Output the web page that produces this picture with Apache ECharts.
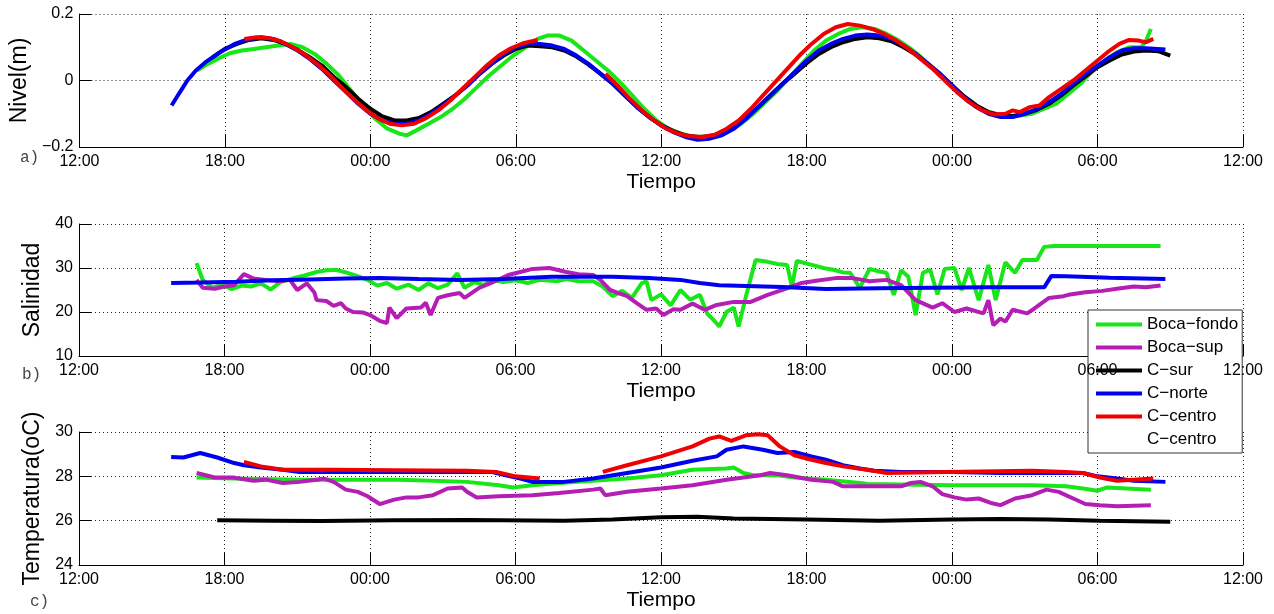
<!DOCTYPE html>
<html>
<head>
<meta charset="utf-8">
<script src="https://cdn.jsdelivr.net/npm/echarts@6/dist/echarts.min.js"></script>
<style>
  html, body { margin: 0; padding: 0; background: #fff; }
  #main { width: 1274px; height: 614px; }
</style>
</head>
<body>
<div id="main"></div>
<script>
// eje x: horas desde las 12:00 del primer dia
let xTicks = ['12:00', '18:00', '00:00', '06:00', '12:00', '18:00', '00:00', '06:00', '12:00']
let names = ['Boca\u2212fondo', 'Boca\u2212sup', 'C\u2212sur', 'C\u2212norte', 'C\u2212centro', 'C\u2212centro ']

// a) Nivel (m)
let nivelFondo = [[4.85,0.03],[5.3,0.05],[5.7,0.065],[6.2,0.082],[6.7,0.09],[7.2,0.095],[7.7,0.1],[8.2,0.105],[8.7,0.11],[9.2,0.1],[9.7,0.08],[10.2,0.05],[10.7,0.015],[11.2,-0.03],[11.7,-0.075],[12.2,-0.115],[12.7,-0.145],[13.2,-0.16],[13.5,-0.165],[13.9,-0.15],[14.4,-0.13],[14.9,-0.11],[15.4,-0.085],[15.9,-0.055],[16.4,-0.02],[16.9,0.015],[17.4,0.045],[17.9,0.075],[18.4,0.1],[18.9,0.125],[19.3,0.135],[19.8,0.135],[20.3,0.12],[20.8,0.09],[21.3,0.06],[21.8,0.03],[22.3,-0.005],[22.8,-0.045],[23.3,-0.085],[23.8,-0.12],[24.3,-0.145],[24.8,-0.16],[25.3,-0.168],[25.8,-0.172],[26.3,-0.165],[26.8,-0.15],[27.3,-0.13],[27.8,-0.1],[28.3,-0.065],[28.8,-0.03],[29.3,0.01],[29.8,0.05],[30.3,0.09],[30.8,0.12],[31.3,0.14],[31.8,0.155],[32.3,0.16],[32.8,0.155],[33.3,0.14],[33.8,0.12],[34.3,0.095],[34.8,0.065],[35.3,0.03],[35.8,-0.005],[36.3,-0.04],[36.8,-0.07],[37.3,-0.09],[37.8,-0.1],[38.3,-0.11],[38.8,-0.105],[39.3,-0.1],[39.8,-0.085],[40.3,-0.07],[40.8,-0.04],[41.3,-0.01],[41.8,0.03],[42.3,0.06],[42.8,0.085],[43.3,0.1],[43.8,0.1],[44.0,0.12],[44.2,0.155]]
let nivelSur = [[5.5,0.07],[6.0,0.095],[6.5,0.11],[7.0,0.122],[7.5,0.127],[8.0,0.122],[8.5,0.11],[9.0,0.092],[9.5,0.07],[10.0,0.045],[10.5,0.01],[11.0,-0.02],[11.5,-0.055],[12.0,-0.085],[12.5,-0.108],[13.0,-0.12],[13.5,-0.12],[14.0,-0.113],[14.5,-0.095],[15.0,-0.07],[15.5,-0.045],[16.0,-0.015],[16.5,0.02],[17.0,0.05],[17.5,0.075],[18.0,0.095],[18.5,0.105],[19.0,0.103],[19.5,0.1],[20.0,0.09],[20.5,0.072],[21.0,0.048],[21.5,0.02],[22.0,-0.01],[22.5,-0.045],[23.0,-0.08],[23.5,-0.11],[24.0,-0.135],[24.5,-0.152],[25.0,-0.165],[25.5,-0.17],[26.0,-0.168],[26.5,-0.158],[27.0,-0.14],[27.5,-0.112],[28.0,-0.08],[28.5,-0.045],[29.0,-0.01],[29.5,0.02],[30.0,0.052],[30.5,0.08],[31.0,0.1],[31.5,0.115],[32.0,0.125],[32.5,0.13],[33.0,0.127],[33.5,0.118],[34.0,0.1],[34.5,0.078],[35.0,0.05],[35.5,0.02],[36.0,-0.015],[36.5,-0.048],[37.0,-0.075],[37.5,-0.095],[38.0,-0.105],[38.5,-0.107],[39.0,-0.1],[39.5,-0.088],[40.0,-0.07],[40.5,-0.045],[41.0,-0.015],[41.5,0.012],[42.0,0.04],[42.5,0.06],[43.0,0.078],[43.5,0.087],[44.0,0.09],[44.5,0.088],[45.0,0.075]]
let nivelNorte = [[3.8,-0.075],[4.1,-0.04],[4.45,0.0],[4.8,0.03],[5.2,0.055],[5.8,0.085],[6.4,0.11],[7.0,0.125],[7.5,0.13],[8.0,0.125],[8.5,0.11],[9.0,0.09],[9.5,0.065],[10.0,0.035],[10.5,0.0],[11.0,-0.035],[11.5,-0.07],[12.0,-0.1],[12.5,-0.12],[13.0,-0.13],[13.5,-0.13],[14.0,-0.12],[14.5,-0.1],[15.0,-0.075],[15.5,-0.045],[16.0,-0.015],[16.5,0.02],[17.0,0.05],[17.5,0.08],[18.0,0.1],[18.5,0.11],[19.0,0.11],[19.5,0.105],[20.0,0.095],[20.5,0.075],[21.0,0.05],[21.5,0.02],[22.0,-0.01],[22.5,-0.045],[23.0,-0.08],[23.5,-0.11],[24.0,-0.135],[24.5,-0.155],[25.0,-0.17],[25.5,-0.178],[26.0,-0.175],[26.5,-0.165],[27.0,-0.145],[27.5,-0.115],[28.0,-0.08],[28.5,-0.045],[29.0,-0.01],[29.5,0.025],[30.0,0.06],[30.5,0.09],[31.0,0.11],[31.5,0.125],[32.0,0.135],[32.5,0.138],[33.0,0.135],[33.5,0.125],[34.0,0.105],[34.5,0.08],[35.0,0.05],[35.5,0.02],[36.0,-0.015],[36.5,-0.05],[37.0,-0.08],[37.5,-0.1],[38.0,-0.11],[38.5,-0.11],[39.0,-0.1],[39.5,-0.085],[40.0,-0.065],[40.5,-0.04],[41.0,-0.01],[41.5,0.02],[42.0,0.045],[42.5,0.07],[43.0,0.09],[43.5,0.097],[44.0,0.097],[44.8,0.093]]
let nivelCentroA = [[6.8,0.125],[7.3,0.13],[7.8,0.128],[8.3,0.118],[8.8,0.1],[9.3,0.078],[9.8,0.05],[10.3,0.018],[10.8,-0.02],[11.3,-0.055],[11.8,-0.088],[12.3,-0.113],[12.8,-0.13],[13.3,-0.135],[13.8,-0.13],[14.3,-0.113],[14.8,-0.09],[15.3,-0.06],[15.8,-0.025],[16.3,0.01],[16.8,0.045],[17.3,0.075],[17.8,0.097],[18.3,0.112],[18.9,0.122]]
let nivelCentroB = [[21.7,0.02],[22.2,-0.015],[22.7,-0.055],[23.2,-0.09],[23.7,-0.12],[24.2,-0.145],[24.7,-0.16],[25.2,-0.168],[25.7,-0.17],[26.2,-0.163],[26.7,-0.145],[27.2,-0.12],[27.7,-0.085],[28.2,-0.045],[28.7,-0.005],[29.2,0.035],[29.7,0.075],[30.2,0.11],[30.7,0.14],[31.2,0.16],[31.7,0.17],[32.2,0.165],[32.7,0.155],[33.2,0.14],[33.7,0.12],[34.2,0.095],[34.7,0.065],[35.2,0.035],[35.7,0.0],[36.2,-0.035],[36.7,-0.065],[37.2,-0.088],[37.7,-0.102],[38.2,-0.1],[38.5,-0.09],[38.8,-0.095],[39.2,-0.08],[39.6,-0.075],[40.0,-0.05],[40.5,-0.025],[41.0,0.0],[41.5,0.03],[42.0,0.06],[42.5,0.09],[42.9,0.11],[43.3,0.122],[43.7,0.12],[44.0,0.115],[44.3,0.125]]

// b) Salinidad
let salFondo = [[4.85,31.1],[5.1,27.3],[5.5,25.5],[5.9,26.2],[6.3,25.2],[6.7,26.0],[7.1,25.8],[7.5,26.5],[7.9,25.1],[8.3,26.8],[8.8,27.6],[9.3,28.3],[9.8,29.1],[10.2,29.5],[10.6,29.6],[11.0,29.0],[11.4,28.3],[11.9,27.3],[12.3,26.0],[12.7,26.6],[13.1,25.3],[13.6,26.2],[14.0,25.0],[14.4,26.5],[14.8,25.4],[15.2,26.2],[15.6,28.8],[15.9,25.5],[16.3,26.8],[16.7,26.1],[17.0,27.3],[17.5,26.8],[18.0,27.2],[18.5,26.6],[19.0,27.3],[19.7,27.0],[20.1,27.5],[20.6,27.0],[21.2,27.0],[21.6,25.8],[22.0,23.6],[22.4,24.8],[22.8,23.2],[23.2,26.5],[23.4,27.0],[23.6,22.7],[24.0,24.0],[24.4,21.5],[24.8,25.0],[25.2,22.8],[25.6,23.9],[25.9,19.7],[26.2,18.0],[26.4,16.7],[26.7,20.0],[27.0,21.0],[27.2,16.7],[27.5,23.5],[27.9,31.8],[28.4,31.4],[28.8,30.9],[29.2,30.7],[29.4,25.7],[29.6,31.6],[30.3,30.6],[30.7,30.0],[31.1,29.6],[31.5,29.0],[31.8,28.9],[32.2,25.5],[32.6,29.8],[33.0,29.2],[33.3,28.9],[33.6,23.9],[33.9,29.5],[34.2,28.0],[34.5,19.3],[34.8,28.9],[35.1,29.6],[35.4,24.0],[35.7,29.8],[36.1,30.0],[36.4,25.0],[36.7,30.0],[37.1,22.7],[37.5,30.7],[37.8,22.7],[38.2,31.3],[38.6,28.9],[38.9,31.8],[39.5,31.8],[39.8,34.8],[40.2,35.0],[42.0,35.0],[44.6,35.0]]
let salSup = [[4.85,27.3],[5.1,25.5],[5.6,25.3],[6.0,25.8],[6.4,26.1],[6.8,28.6],[7.2,27.6],[7.7,27.3],[8.2,27.0],[8.7,27.3],[9.0,25.0],[9.4,26.5],[9.7,24.5],[9.8,22.7],[10.2,22.5],[10.5,21.4],[10.8,22.0],[11.0,20.8],[11.3,20.0],[11.7,19.9],[12.0,19.3],[12.4,18.0],[12.7,17.5],[12.8,21.0],[13.1,18.6],[13.5,20.8],[14.1,21.0],[14.3,22.1],[14.5,19.3],[14.8,23.2],[15.2,23.8],[15.7,24.3],[15.9,23.2],[16.5,25.5],[17.0,26.6],[17.7,28.4],[18.2,29.1],[18.7,29.8],[19.4,30.0],[20.1,29.1],[20.6,28.6],[21.2,28.4],[21.5,27.3],[21.9,25.0],[22.3,24.2],[22.6,23.6],[23.0,22.0],[23.4,20.5],[23.8,20.8],[24.1,19.3],[24.5,20.6],[24.8,20.5],[25.3,21.9],[25.8,20.5],[26.3,21.6],[27.0,22.3],[27.7,22.3],[28.4,23.9],[29.1,25.2],[29.8,26.6],[30.4,27.1],[31.2,27.7],[31.9,27.7],[32.6,27.0],[33.3,27.3],[33.9,26.1],[34.5,22.7],[35.2,21.0],[35.6,22.0],[36.1,20.0],[36.6,20.8],[37.3,19.7],[37.5,22.7],[37.7,17.0],[38.0,18.5],[38.2,17.8],[38.5,20.5],[39.1,19.7],[39.4,20.8],[40.0,23.2],[40.6,23.6],[40.8,23.9],[41.5,24.5],[42.2,24.8],[42.8,25.3],[43.5,25.8],[44.0,25.6],[44.6,26.0]]
let salNorte = [[3.8,26.6],[5,26.7],[6.5,26.9],[8,27.2],[9.5,27.4],[11,27.6],[12.4,27.7],[14,27.5],[15.7,27.3],[17.5,27.5],[19.5,28.0],[22,28.0],[23.5,27.7],[24.8,27.3],[25.6,26.6],[26.4,26.1],[29,25.7],[30.8,25.2],[33,25.4],[35.2,25.5],[37.5,25.6],[39.8,25.6],[40.1,28.2],[40.7,28.1],[42.5,27.8],[44.8,27.5]]

// c) Temperatura (oC)
let tempFondo = [[4.85,27.95],[6.35,27.9],[9.1,27.85],[13.2,27.85],[16,27.75],[17.3,27.6],[17.9,27.5],[18.7,27.6],[19.8,27.7],[21.2,27.8],[22.6,27.9],[24,28.05],[25.3,28.3],[26.7,28.35],[27,28.4],[27.4,28.15],[27.8,28.05],[28.8,28.05],[29.5,27.95],[30.8,27.85],[32.2,27.7],[32.5,27.65],[36,27.6],[39.3,27.6],[40.7,27.55],[41.4,27.45],[42,27.35],[42.4,27.5],[44.2,27.4]]
let tempSup = [[4.85,28.15],[5.6,27.95],[6.35,27.95],[7.2,27.8],[7.7,27.85],[8.4,27.7],[9.1,27.75],[9.8,27.85],[10.1,27.9],[10.5,27.75],[11.0,27.4],[11.5,27.3],[11.9,27.1],[12.4,26.75],[13.0,26.95],[13.5,27.05],[14.0,27.05],[14.6,27.15],[15.2,27.45],[15.8,27.5],[16.0,27.3],[16.4,27.05],[17.3,27.1],[18.7,27.15],[19.8,27.25],[21.2,27.4],[21.5,27.45],[21.7,27.15],[22.6,27.3],[24,27.45],[25.3,27.6],[26.7,27.85],[28.1,28.05],[28.5,28.15],[29.2,28.05],[30.2,27.85],[31.1,27.75],[31.5,27.55],[32.5,27.55],[33.9,27.55],[34.3,27.7],[34.7,27.75],[35.2,27.55],[35.6,27.2],[36.1,27.05],[36.6,26.95],[37.1,27.0],[37.6,26.8],[38.0,26.7],[38.6,27.0],[39.3,27.15],[39.9,27.4],[40.4,27.3],[41.0,27.0],[41.5,26.75],[42.1,26.7],[42.8,26.65],[44.2,26.7]]
let tempSur = [[5.7,26.02],[8,26.0],[10,25.98],[13,26.02],[16,26.03],[20,26.0],[22,26.05],[24,26.15],[25.5,26.18],[27,26.1],[30,26.05],[33,26.0],[36,26.05],[38,26.08],[40,26.05],[42.1,26.0],[45,25.95]]
let tempNorte = [[3.8,28.87],[4.3,28.85],[5.0,29.05],[5.7,28.85],[6.4,28.6],[6.8,28.5],[7.5,28.4],[8.4,28.3],[9.1,28.2],[12,28.2],[15,28.2],[17,28.2],[17.6,28.05],[18.2,27.9],[18.7,27.75],[20,27.75],[21.2,27.9],[22.6,28.15],[24,28.4],[25.3,28.7],[26.3,28.9],[26.7,29.2],[27.4,29.35],[28.2,29.2],[28.8,29.05],[29.5,29.1],[30.2,28.9],[30.8,28.75],[31.5,28.5],[32.2,28.35],[32.8,28.25],[33.9,28.2],[36,28.2],[38,28.15],[40.7,28.15],[41.4,28.15],[42,28.0],[42.8,27.9],[43.5,27.8],[44.8,27.75]]
let tempCentroA = [[6.8,28.65],[7.5,28.45],[8.4,28.3],[10.5,28.3],[13,28.28],[16,28.25],[17.2,28.2],[18,28.0],[19,27.9]]
let tempCentroB = [[21.6,28.2],[22.6,28.5],[24,28.9],[25.3,29.35],[26,29.7],[26.4,29.8],[26.9,29.6],[27.5,29.85],[28,29.9],[28.4,29.85],[28.9,29.35],[29.5,28.95],[30.2,28.75],[30.8,28.6],[31.5,28.45],[32.5,28.3],[33.3,28.15],[35.7,28.2],[39.3,28.25],[40.7,28.2],[41.4,28.15],[42.1,27.95],[42.8,27.8],[43.5,27.85],[44.3,27.9]]

let colores = ['#19e619', '#b41eb4', '#000000', '#0000f0', '#f00000', 'rgba(0,0,0,0)']
let fuente = 'Liberation Sans'

let myChart = echarts.init(document.getElementById('main'))

function ejeX(grid, conEtiquetas) {
	return {
		type: 'value', gridIndex: grid, min: 0, max: 48, interval: 6, position: 'bottom',
		axisLine: { show: true, onZero: false, lineStyle: { color: '#000', width: 1 } },
		axisTick: { show: true, inside: true, length: 12, lineStyle: { color: '#000' } },
		axisLabel: {
			show: conEtiquetas, margin: 7, color: '#000', fontSize: 16, fontFamily: fuente,
			formatter: function(v) { return xTicks[Math.round(v / 6)] }
		},
		splitLine: { show: true, lineStyle: { color: '#222', width: 1, type: [1, 3] } },
		name: conEtiquetas ? 'Tiempo' : '', nameLocation: 'middle', nameGap: 25,
		nameTextStyle: { fontSize: 21, color: '#000', fontFamily: fuente }
	}
}

function ejeY(grid, min, max, interval, nombre, gap) {
	return {
		type: 'value', gridIndex: grid, min: min, max: max, interval: interval,
		axisLine: { show: true, lineStyle: { color: '#000', width: 1 } },
		axisTick: { show: true, inside: true, length: 12, lineStyle: { color: '#000' } },
		axisLabel: {
			margin: 6, color: '#000', fontSize: 16, fontFamily: fuente,
			formatter: function(v) { return String(v).replace('-', '\u2212') }
		},
		splitLine: { show: true, lineStyle: { color: '#222', width: 1, type: [1, 3] } },
		name: nombre, nameLocation: 'middle', nameGap: gap,
		nameTextStyle: { fontSize: 23, color: '#000', fontFamily: fuente }
	}
}

function linea(nombre, i, xi, yi, data) {
	return {
		name: nombre, type: 'line', xAxisIndex: xi, yAxisIndex: yi, data: data,
		showSymbol: false, symbol: 'none', animation: false,
		lineStyle: { width: 4, color: colores[i] },
		itemStyle: { color: colores[i] }
	}
}

// b) tiene un eje de etiquetas encima de la leyenda
let xAxes = [ejeX(0, true), ejeX(1, false), ejeX(2, true), ejeX(1, true)]
xAxes[3].axisLine.show = false
xAxes[3].axisTick.show = false
xAxes[3].splitLine.show = false
xAxes[3].z = 6

var option = {
	backgroundColor: '#fff',
	animation: false,
	grid: [
		{ left: 79, top: 14, width: 1164, height: 133 },
		{ left: 79, top: 224, width: 1164, height: 132 },
		{ left: 79, top: 432, width: 1164, height: 133 }
	],
	xAxis: xAxes,
	yAxis: [
		ejeY(0, -0.2, 0.2, 0.2, 'Nivel(m)', 44),
		ejeY(1, 10, 40, 10, 'Salinidad', 33),
		ejeY(2, 24, 30, 2, 'Temperatura(oC)', 33)
	],
	legend: {
		data: names, orient: 'vertical', left: 1088, top: 310,
		icon: 'rect', itemWidth: 46, itemHeight: 4, itemGap: 6,
		padding: [6, 4, 5, 8], backgroundColor: '#fff',
		borderColor: '#333', borderWidth: 1, selectedMode: false, z: 3,
		textStyle: { fontSize: 17, color: '#000', fontFamily: fuente, lineHeight: 17 }
	},
	graphic: [
		{ type: 'text', left: 20, top: 150, style: { text: 'a)', font: '16px "Liberation Mono"', fill: '#444' } },
		{ type: 'text', left: 22, top: 367, style: { text: 'b)', font: '16px "Liberation Mono"', fill: '#444' } },
		{ type: 'text', left: 30, top: 594, style: { text: 'c)', font: '16px "Liberation Mono"', fill: '#444' } }
	],
	series: [
		linea(names[0], 0, 0, 0, nivelFondo),
		linea(names[2], 2, 0, 0, nivelSur),
		linea(names[3], 3, 0, 0, nivelNorte),
		linea(names[4], 4, 0, 0, nivelCentroA),
		linea(names[4], 4, 0, 0, nivelCentroB),

		linea(names[0], 0, 1, 1, salFondo),
		linea(names[1], 1, 1, 1, salSup),
		linea(names[3], 3, 1, 1, salNorte),
		linea(names[5], 5, 1, 1, []),

		linea(names[0], 0, 2, 2, tempFondo),
		linea(names[1], 1, 2, 2, tempSup),
		linea(names[2], 2, 2, 2, tempSur),
		linea(names[3], 3, 2, 2, tempNorte),
		linea(names[4], 4, 2, 2, tempCentroA),
		linea(names[4], 4, 2, 2, tempCentroB)
	]
}

myChart.setOption(option)
</script>
</body>
</html>
